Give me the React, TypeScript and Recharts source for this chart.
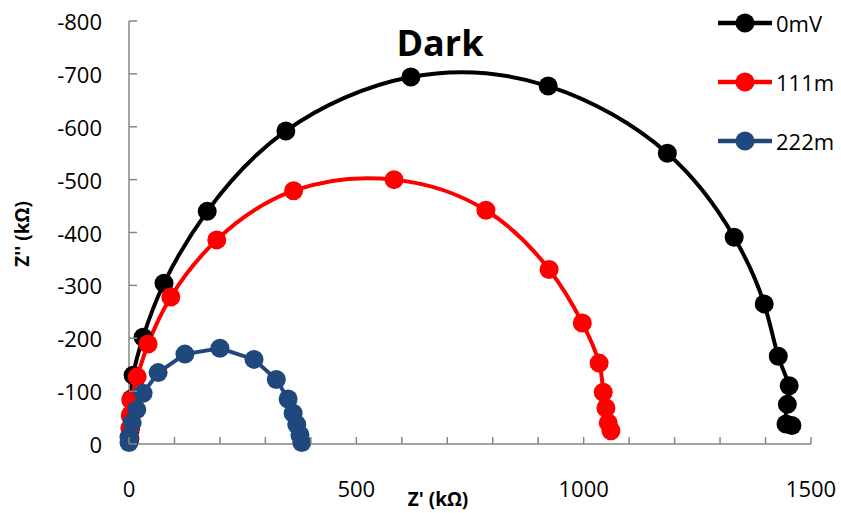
import React from 'react'
import { ComposedChart, Line, XAxis, YAxis } from 'recharts'

// Nyquist plot, dark measurement: Z' vs Z'' (kΩ) at three bias levels
const zReal0mV = [2, 3, 4, 5, 9, 31, 77, 172, 345, 620, 922, 1184, 1331, 1397, 1428, 1452, 1448, 1445, 1458]
const zImag0mV = [-10, -28, -52, -85, -130, -202, -304, -440, -592, -694, -677, -550, -391, -265, -166, -110, -75, -38, -35]

const zReal111m = [1, 2, 3, 4, 18, 42, 92, 193, 362, 583, 785, 924, 997, 1034, 1043, 1049, 1054, 1060]
const zImag111m = [-10, -30, -55, -83, -127, -189, -278, -386, -479, -500, -442, -330, -229, -153, -98, -68, -40, -25]

const zReal222m = [0, 0, 7, 17, 31, 64, 123, 200, 275, 324, 350, 361, 369, 376, 380]
const zImag222m = [-3, -13, -40, -65, -96, -135, -170, -181, -160, -122, -85, -58, -37, -17, -3]

const xTicks = [0, 100, 200, 300, 400, 500, 600, 700, 800, 900, 1000, 1100, 1200, 1300, 1400, 1500]
const yTicks = [-800, -700, -600, -500, -400, -300, -200, -100, 0]

const AXIS = '#868686'
const FONT = '"Open Sans", sans-serif'

const toPoints = (xs: number[], ys: number[]) => xs.map((x, i) => ({ x, y: ys[i] }))

const series = [
  { name: '0mV', color: '#000000', curve: 'natural', data: toPoints(zReal0mV, zImag0mV) },
  { name: '111m', color: '#FF0000', curve: 'natural', data: toPoints(zReal111m, zImag111m) },
  { name: '222m', color: '#1F497D', curve: 'linear', data: toPoints(zReal222m, zImag222m) },
]

// ticks point into the plot, labels sit well away from the axis line
const XTick = (props: any) => {
  const { x, y, payload } = props
  const v = payload.value
  return (
    <g>
      <line x1={x} y1={y} x2={x} y2={y - 7} stroke={AXIS} strokeWidth={1.5} />
      {v % 500 === 0 && (
        <text x={x} y={y + 44} textAnchor="middle" dominantBaseline="central" fontFamily={FONT} fontSize={22} fill="#000">
          {v}
        </text>
      )}
    </g>
  )
}

const YTick = (props: any) => {
  const { x, y, payload } = props
  return (
    <g>
      <line x1={x} y1={y} x2={x + 8} y2={y} stroke={AXIS} strokeWidth={1.5} />
      <text x={x - 27} y={y} textAnchor="end" dominantBaseline="central" fontFamily={FONT} fontSize={22} fill="#000">
        {payload.value}
      </text>
    </g>
  )
}

const LegendBox = () => (
  <div style={{ position: 'absolute', left: 716, top: -7, fontFamily: FONT }}>
    {series.map(s => (
      <div key={s.name} style={{ display: 'flex', alignItems: 'center', height: 59 }}>
        <svg width={58} height={24}>
          <line x1={2} y1={12} x2={56} y2={12} stroke={s.color} strokeWidth={4.5} />
          <circle cx={29} cy={12} r={9.5} fill={s.color} />
        </svg>
        <span style={{ fontSize: 22, marginLeft: 2, color: '#000' }}>{s.name}</span>
      </div>
    ))}
  </div>
)

export default function App() {
  return (
    <div style={{ position: 'absolute', left: 0, top: 0, width: 841, height: 513, background: '#fff', overflow: 'hidden' }}>
      <ComposedChart width={841} height={513} margin={{ top: 21, right: 30, bottom: 39, left: 69 }}>
        <XAxis
          type="number"
          dataKey="x"
          domain={[0, 1500]}
          ticks={xTicks}
          interval={0}
          tickSize={0}
          tickMargin={0}
          tickLine={false}
          tick={<XTick />}
          axisLine={{ stroke: AXIS, strokeWidth: 1.5 }}
          height={30}
        />
        <YAxis
          type="number"
          dataKey="y"
          domain={[-800, 0]}
          reversed
          ticks={yTicks}
          interval={0}
          tickSize={0}
          tickMargin={0}
          tickLine={false}
          tick={<YTick />}
          axisLine={{ stroke: AXIS, strokeWidth: 1.5 }}
          width={60}
        />
        {series.map(s => (
          <Line
            key={s.name}
            name={s.name}
            data={s.data}
            dataKey="y"
            type={s.curve as any}
            stroke={s.color}
            strokeWidth={4}
            dot={{ r: 9.5, fill: s.color, stroke: s.color, strokeWidth: 0 }}
            activeDot={false}
            isAnimationActive={false}
          />
        ))}
      </ComposedChart>
      <LegendBox />
      <div
        style={{
          position: 'absolute', left: 340, top: 18, width: 200, textAlign: 'center',
          fontFamily: FONT, fontWeight: 700, fontSize: 36, lineHeight: '50px',
        }}
      >
        Dark
      </div>
      <div
        style={{
          position: 'absolute', left: 338, top: 489, width: 200, textAlign: 'center',
          fontFamily: FONT, fontWeight: 700, fontSize: 19, lineHeight: '20px',
        }}
      >
        Z' (kΩ)
      </div>
      <div
        style={{
          position: 'absolute', left: -78, top: 221, width: 200, textAlign: 'center',
          fontFamily: FONT, fontWeight: 700, fontSize: 19, lineHeight: '26px',
          transform: 'rotate(-90deg)',
        }}
      >
        Z'' (kΩ)
      </div>
    </div>
  )
}
